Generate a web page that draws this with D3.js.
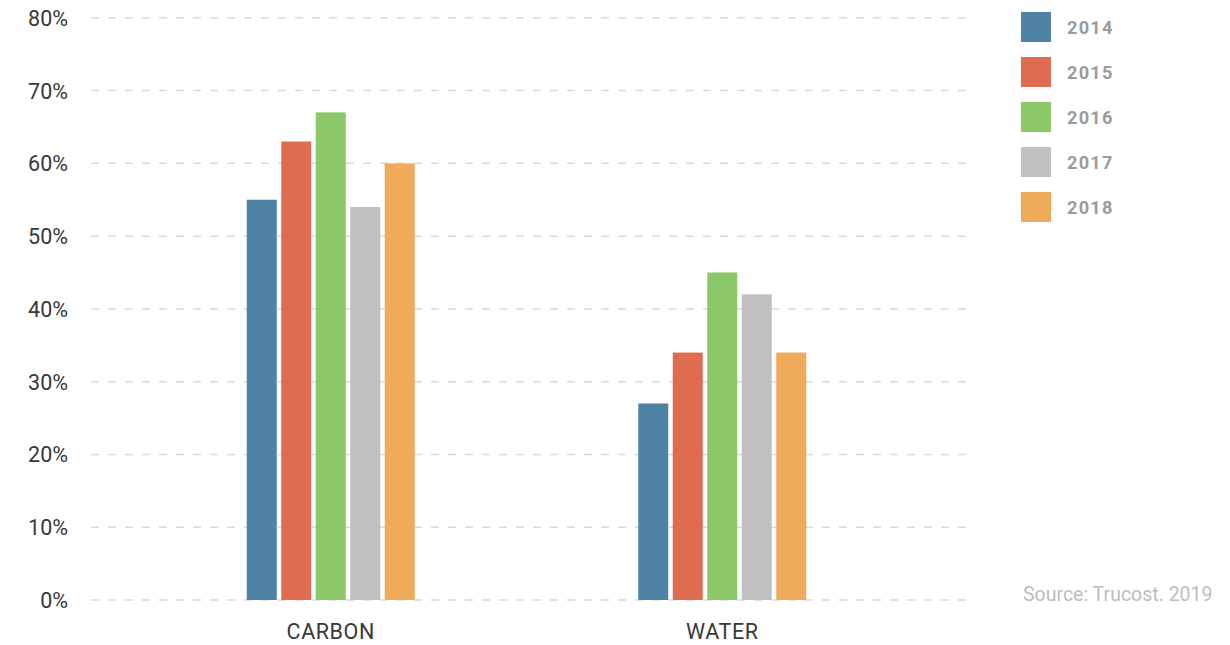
<!DOCTYPE html>
<html><head><meta charset="utf-8">
<script src="https://cdn.jsdelivr.net/npm/d3@7"></script>
<style>
html,body{margin:0;padding:0;background:#fff;}
svg{display:block;font-family:Roboto, "Liberation Sans", sans-serif;}
</style></head>
<body><svg id="chart" width="1230" height="645"></svg>
<script>
const categories = ["CARBON", "WATER"];
const years = ["2014", "2015", "2016", "2017", "2018"];
const carbonValues = [55, 63, 67, 54, 60];
const waterValues = [27, 34, 45, 42, 34];
const yTicks = [0, 10, 20, 30, 40, 50, 60, 70, 80];
const colors = ["#4e83a5", "#df6b50", "#8cc76a", "#c0c0c0", "#efab5a"];
const sourceText = "Source: Trucost. 2019";

const seriesByCat = {CARBON: carbonValues, WATER: waterValues};

const svg = d3.select("#chart");
const y = d3.scaleLinear().domain([0, 80]).range([600, 17.8]);
const x0 = d3.scaleBand().domain(categories).range([135, 918]).padding(0);
const x1 = d3.scaleBand().domain(years).range([0, 168]).paddingInner(0.13).paddingOuter(0);
const color = d3.scaleOrdinal().domain(years).range(colors);

// grid
const grid = svg.append("g");
grid.selectAll("line").data(yTicks).join("line")
  .attr("x1", 91).attr("x2", 971)
  .attr("y1", d => y(d)).attr("y2", d => y(d))
  .attr("stroke", "#d9d9d9").attr("stroke-width", 1.5)
  .attr("stroke-dasharray", "8,9");

// y labels
const yAxis = d3.axisLeft(y).tickValues(yTicks).tickFormat(d => d + "%").tickSize(0).tickPadding(0);
const ya = svg.append("g").attr("transform", "translate(68,0)").call(yAxis);
ya.select(".domain").remove();
ya.selectAll("text").attr("font-size", 21.5).attr("fill", "#383838").attr("font-family", "Roboto").attr("dy", "0.35em");

// bars
const groups = svg.append("g").selectAll("g").data(categories).join("g")
  .attr("transform", d => `translate(${x0(d) + x0.bandwidth()/2 - 84},0)`);
groups.selectAll("rect").data(c => years.map((yr, i) => ({yr, v: seriesByCat[c][i]})))
  .join("rect")
  .attr("x", d => x1(d.yr)).attr("width", x1.bandwidth())
  .attr("y", d => y(d.v)).attr("height", d => y(0) - y(d.v))
  .attr("fill", d => color(d.yr));

// x labels
const xAxis = d3.axisBottom(x0).tickSize(0).tickPadding(0);
const xa = svg.append("g").attr("transform", "translate(0,631)").call(xAxis);
xa.select(".domain").remove();
xa.selectAll("text").attr("font-size", 21.5).attr("fill", "#383838").attr("font-family", "Roboto")
  .attr("dy", "0.35em").attr("letter-spacing", "0.6px");

// legend
const leg = svg.append("g").selectAll("g").data(years).join("g")
  .attr("transform", (d, i) => `translate(1021,${12 + i * 45})`);
leg.append("rect").attr("width", 30).attr("height", 30).attr("fill", d => color(d));
leg.append("text").attr("x", 46).attr("y", 16).attr("dy", "0.35em")
  .attr("font-size", 18.2).attr("font-weight", 700).attr("fill", "#9b9b9b")
  .attr("letter-spacing", "1.2px").text(d => d);

// source
svg.append("text").attr("x", 1023).attr("y", 594).attr("dy", "0.35em")
  .attr("font-size", 19.5).attr("fill", "#bdbdbd").text(sourceText);
</script></body></html>
